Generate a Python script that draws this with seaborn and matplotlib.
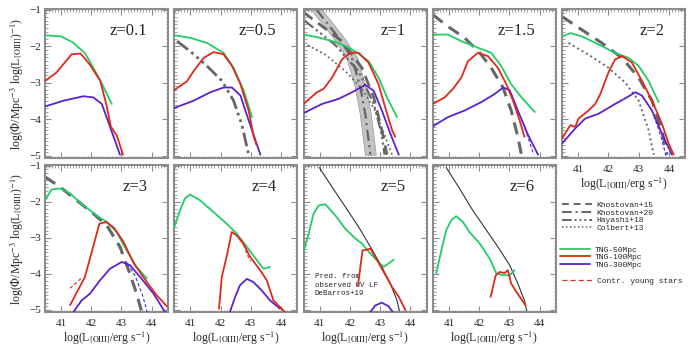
import numpy as np
import pandas as pd
import seaborn as sns
import matplotlib.pyplot as plt
from matplotlib.lines import Line2D
from matplotlib.ticker import MultipleLocator

# values: (log L[OIII], log Phi)
tng50_z01 = [(40.47, -1.70), (41.0, -1.73), (41.4, -1.90), (41.8, -2.2), (42.07, -2.59), (42.35, -3.02), (42.68, -3.58)]
tng50_z05 = [(40.47, -1.70), (41.0, -1.77), (41.55, -1.91), (42.1, -2.18), (42.43, -2.59), (42.77, -3.22), (43.04, -3.94)]
tng50_z1 = [(40.47, -1.68), (40.97, -1.76), (41.63, -1.91), (42.18, -2.14), (42.62, -2.41), (42.95, -2.86), (43.23, -3.4), (43.56, -3.94)]
tng50_z15 = [(40.47, -1.68), (40.97, -1.68), (41.41, -1.86), (41.96, -2.04), (42.4, -2.18), (42.73, -2.54), (43.06, -3.04), (43.4, -3.4), (43.84, -3.8)]
tng50_z2 = [(40.47, -1.73), (40.74, -1.64), (41.12, -1.73), (41.67, -1.95), (42.22, -2.18), (42.67, -2.32), (43.0, -2.54), (43.33, -2.95), (43.66, -3.53)]
tng50_z3 = [(40.47, -1.96), (40.69, -1.66), (40.97, -1.63), (41.3, -1.77), (41.74, -2.1), (42.18, -2.38), (42.51, -2.56), (42.84, -2.84), (43.17, -3.35), (43.5, -3.81), (43.84, -4.13)]
tng50_z4 = [(40.47, -2.7), (40.66, -2.24), (40.82, -1.91), (40.99, -1.8), (41.32, -1.96), (41.76, -2.28), (42.2, -2.61), (42.53, -2.88), (42.87, -3.25), (43.2, -3.62), (43.42, -3.86), (43.64, -3.81)]
tng50_z5 = [(40.47, -3.39), (40.64, -2.88), (40.8, -2.33), (40.97, -2.1), (41.19, -2.07), (41.52, -2.38), (41.85, -2.75), (42.18, -3.02), (42.4, -3.16), (42.68, -3.44), (42.95, -3.67), (43.12, -3.81), (43.45, -3.61)]
tng50_z6 = [(40.58, -3.99), (40.75, -3.35), (40.91, -2.79), (41.08, -2.51), (41.24, -2.4), (41.46, -2.56), (41.68, -2.84), (42.02, -3.16), (42.35, -3.58), (42.57, -3.99), (42.79, -4.04), (43.01, -4.04), (43.17, -3.9)]

tng100_z01 = [(40.47, -2.95), (40.85, -2.72), (41.35, -2.22), (41.65, -2.2), (41.95, -2.5), (42.3, -2.95), (42.5, -3.6), (42.65, -4.2), (42.85, -4.45), (43.05, -4.97)]
tng100_z05 = [(40.47, -3.2), (40.89, -2.96), (41.11, -2.68), (41.44, -2.32), (41.77, -2.16), (42.1, -2.22), (42.38, -2.54), (42.66, -3.04), (42.93, -3.76), (43.1, -4.48), (43.19, -4.7)]
tng100_z1 = [(40.47, -3.58), (40.91, -3.26), (41.13, -3.17), (41.41, -2.86), (41.74, -2.36), (42.02, -2.18), (42.29, -2.18), (42.62, -2.45), (42.95, -3.04), (43.2, -3.76), (43.4, -4.3), (43.5, -4.48)]
tng100_z15 = [(40.47, -3.58), (40.86, -3.4), (41.13, -3.17), (41.41, -2.86), (41.63, -2.41), (41.96, -2.18), (42.29, -2.27), (42.62, -2.59), (42.9, -3.04), (43.12, -3.49), (43.34, -4.03), (43.5, -4.48)]
tng100_z2 = [(40.47, -4.52), (40.74, -4.16), (40.9, -4.21), (41.01, -3.98), (41.34, -3.76), (41.56, -3.58), (41.73, -3.31), (42.0, -2.72), (42.22, -2.36), (42.45, -2.27), (42.78, -2.45), (43.11, -2.95), (43.44, -3.49), (43.77, -4.12), (43.99, -4.66), (44.16, -4.97)]
tng100_z3 = [(41.3, -4.87), (41.79, -4.09), (42.27, -2.61), (42.5, -2.56), (42.75, -2.72), (43.06, -3.1), (43.4, -3.7), (43.84, -4.23), (44.17, -4.6), (44.5, -4.9)]
tng100_z4 = [(41.95, -4.97), (42.04, -4.09), (42.2, -3.53), (42.37, -2.84), (42.53, -2.93), (42.75, -3.16), (42.98, -3.53), (43.31, -3.9), (43.53, -4.18), (43.75, -4.74), (44.13, -5.06)]
tng100_z5 = [(42.27, -4.32), (42.42, -3.35), (42.57, -3.33), (42.68, -3.3), (42.9, -3.62), (43.12, -3.95), (43.4, -4.37), (43.62, -4.64), (43.84, -5.01)]
tng100_z6 = [(42.38, -4.64), (42.55, -4.04), (42.68, -3.95), (42.84, -3.98), (42.95, -3.9), (43.06, -4.27), (43.23, -4.5), (43.54, -4.88)]

tng300_z01 = [(40.47, -3.65), (41.08, -3.49), (41.74, -3.37), (42.07, -3.40), (42.35, -3.58), (42.62, -4.2), (42.95, -4.97)]
tng300_z05 = [(40.47, -3.69), (41.11, -3.49), (41.66, -3.26), (42.1, -3.13), (42.38, -3.13), (42.66, -3.35), (42.93, -4.03), (43.32, -4.97)]
tng300_z1 = [(40.47, -3.83), (41.08, -3.58), (41.63, -3.44), (42.07, -3.26), (42.51, -3.06), (42.79, -3.22), (43.06, -3.76), (43.34, -4.39), (43.62, -4.97)]
tng300_z15 = [(40.47, -4.19), (40.97, -3.94), (41.52, -3.76), (42.07, -3.53), (42.51, -3.31), (42.79, -3.13), (43.01, -3.2), (43.28, -3.76), (43.62, -4.43), (43.95, -4.97)]
tng300_z2 = [(40.47, -4.66), (40.9, -4.25), (41.23, -3.98), (41.67, -3.85), (42.22, -3.58), (42.61, -3.4), (42.89, -3.26), (43.11, -3.35), (43.44, -3.76), (43.77, -4.39), (44.1, -4.97)]
tng300_z3 = [(41.41, -5.06), (41.68, -4.74), (41.96, -4.55), (42.29, -4.18), (42.62, -3.86), (43.01, -3.67), (43.28, -3.76), (43.62, -4.09), (44.06, -4.55), (44.44, -5.06)]
tng300_z4 = [(42.31, -5.06), (42.48, -4.65), (42.64, -4.32), (42.87, -4.14), (43.09, -4.23), (43.36, -4.46), (43.64, -4.74), (43.97, -4.97)]
tng300_z5 = [(42.68, -5.06), (42.84, -4.88), (43.06, -4.8), (43.28, -4.9), (43.42, -5.06)]

# young-star contributions, only where they split from the total
young_red_z3 = [(41.3, -4.4), (41.7, -4.1)]
young_blue_z3 = [(43.2, -3.72), (43.45, -4.05), (43.7, -4.6), (43.85, -5.06)]
young_blue_z2 = [(43.5, -3.9), (43.75, -4.5), (43.9, -5.0)]
young_blue_z15 = [(43.45, -4.1), (43.7, -4.7), (43.8, -4.97)]
young_red_z4 = [(42.7, -3.05), (42.9, -3.5), (43.0, -3.65)]

# observed LFs
hayashi_z05 = [(40.56, -1.86), (41.0, -2.14), (41.55, -2.54), (42.05, -2.95), (42.43, -3.49), (42.71, -4.16), (42.93, -4.97)]
khostovan15_z1 = [(40.47, -1.07), (40.58, -1.14), (41.74, -1.86), (42.4, -2.59), (42.79, -3.4), (43.06, -4.3), (43.23, -4.97)]
khostovan20_z1 = [(40.9, -1.0), (41.63, -1.77), (42.07, -2.32), (42.35, -3.13), (42.51, -3.85), (42.68, -4.97)]
hayashi_z1 = [(40.5, -1.3), (41.5, -1.95), (42.3, -2.7), (42.8, -3.6), (43.05, -4.4), (43.15, -4.97)]
colbert_z1 = [(40.47, -1.91), (41.19, -2.23), (41.85, -2.68), (42.4, -3.17), (42.84, -3.76), (43.17, -4.48), (43.4, -4.97)]
khostovan15_z15 = [(40.47, -1.14), (40.97, -1.46), (41.52, -1.77), (42.02, -2.18), (42.4, -2.59), (42.79, -3.13), (43.06, -3.76), (43.28, -4.48), (43.4, -4.97)]
khostovan15_z2 = [(40.47, -1.19), (41.12, -1.55), (41.78, -1.91), (42.45, -2.32), (43.0, -2.86), (43.44, -3.49), (43.77, -4.3), (43.94, -4.97)]
colbert_z2 = [(40.68, -1.91), (41.34, -2.23), (42.0, -2.59), (42.56, -3.0), (43.0, -3.49), (43.33, -4.3), (43.5, -4.97)]
khostovan15_z3 = [(40.47, -1.31), (40.97, -1.59), (41.52, -1.96), (42.07, -2.33), (42.51, -2.65), (42.95, -3.25), (43.28, -4.0), (43.5, -4.55), (43.67, -5.06)]
debarros_z5 = [(40.99, -1.05), (41.41, -1.59), (41.85, -2.14), (42.29, -2.7), (42.68, -3.25), (43.06, -3.81), (43.34, -4.27), (43.56, -4.74), (43.65, -5.06)]
debarros_z6 = [(40.91, -1.05), (41.35, -1.63), (41.79, -2.24), (42.24, -2.79), (42.62, -3.25), (43.01, -3.76), (43.28, -4.27), (43.5, -4.74), (43.58, -5.06)]
khostovan20_band = 0.18   # half width of the grey band in log L

z_labels = ['z=0.1', 'z=0.5', 'z=1', 'z=1.5', 'z=2', 'z=3', 'z=4', 'z=5', 'z=6']
xticks = [41, 42, 43, 44]
yticks = [-1, -2, -3, -4, -5]

GREEN, RED, BLUE = '#22cc66', '#dd2a1b', '#5a22d0'
GREY = '#666666'
FRAME = '#8c8c8c'
DASH = (0, (4, 2.5))
DASHDOT = (0, (5, 2, 1, 2))
DASH3DOT = (0, (5, 1.5, 1, 1.5, 1, 1.5, 1, 1.5))
DOT = (0, (1, 1.6))

sns.set_theme(style='ticks')
plt.rcParams['font.family'] = ['Liberation Serif', 'DejaVu Serif']
plt.rcParams['mathtext.fontset'] = 'stix'

panels = [
    dict(g=tng50_z01, r=tng100_z01, b=tng300_z01, obs=[]),
    dict(g=tng50_z05, r=tng100_z05, b=tng300_z05, obs=[(hayashi_z05, DASH3DOT, 2.0)]),
    dict(g=tng50_z1, r=tng100_z1, b=tng300_z1,
         obs=[(khostovan15_z1, DASH, 2.0), (khostovan20_z1, DASHDOT, 1.6),
              (hayashi_z1, DASH3DOT, 1.6), (colbert_z1, DOT, 1.3)], band=khostovan20_z1),
    dict(g=tng50_z15, r=tng100_z15, b=tng300_z15, obs=[(khostovan15_z15, DASH, 2.2)],
         young=[(young_blue_z15, BLUE)]),
    dict(g=tng50_z2, r=tng100_z2, b=tng300_z2, obs=[(khostovan15_z2, DASH, 2.2), (colbert_z2, DOT, 1.4)],
         young=[(young_blue_z2, BLUE)]),
    dict(g=tng50_z3, r=tng100_z3, b=tng300_z3, obs=[(khostovan15_z3, DASH, 2.2)],
         young=[(young_red_z3, RED), (young_blue_z3, BLUE)]),
    dict(g=tng50_z4, r=tng100_z4, b=tng300_z4, obs=[], young=[(young_red_z4, RED)]),
    dict(g=tng50_z5, r=tng100_z5, b=tng300_z5, obs=[], debarros=debarros_z5),
    dict(g=tng50_z6, r=tng100_z6, b=[], obs=[], debarros=debarros_z6),
]


def draw(ax, points, **kw):
    if len(points) == 0:
        return
    df = pd.DataFrame(points, columns=['logL', 'logphi'])
    sns.lineplot(data=df, x='logL', y='logphi', ax=ax, sort=False, estimator=None, legend=False, **kw)


W, H = 698, 349
fig = plt.figure(figsize=(W / 100, H / 100), dpi=100)
col_left = [45, 174.3, 303.6, 432.9, 562.2]
row_top = [9, 165]
row_h = [149, 147]
axw = 123

ylab = r'log($\Phi$/Mpc$^{-3}$ log(L$_{\rm [OIII]}$)$^{-1}$)'
xlab = r'log(L$_{\rm [OIII]}$/erg s$^{-1}$)'

for i, p in enumerate(panels):
    row, col = (0, i) if i < 5 else (1, i - 5)
    ax = fig.add_axes([col_left[col] / W, 1 - (row_top[row] + row_h[row]) / H, axw / W, row_h[row] / H])

    if 'band' in p:
        bd = pd.DataFrame(p['band'], columns=['logL', 'logphi'])
        ax.fill_betweenx(bd['logphi'], bd['logL'] - khostovan20_band, bd['logL'] + khostovan20_band,
                         color='#c4c4c4', edgecolor='#a0a0a0', lw=0.6, zorder=1)
    for pts, ls, lw in p['obs']:
        draw(ax, pts, color=GREY, linestyle=ls, lw=lw, zorder=2)
    if 'debarros' in p:
        draw(ax, p['debarros'], color='#333333', lw=0.8, zorder=2)

    draw(ax, p['g'], color=GREEN, lw=1.3, zorder=3)
    draw(ax, p['r'], color=RED, lw=1.3, zorder=4)
    draw(ax, p['b'], color=BLUE, lw=1.3, zorder=3)
    for pts, c in p.get('young', []):
        draw(ax, pts, color=c, lw=0.8, linestyle=(0, (3, 2)), zorder=3)

    ax.set_xlim(40.47, 44.54)
    ax.set_ylim(-5.06, -0.98)
    ax.set_xticks(xticks)
    ax.set_yticks(yticks)
    ax.xaxis.set_minor_locator(MultipleLocator(0.1))
    ax.yaxis.set_minor_locator(MultipleLocator(0.1))
    ax.tick_params(which='both', direction='in', top=True, right=True, color=FRAME, labelsize=8)
    ax.tick_params(which='major', length=4, width=0.8)
    ax.tick_params(which='minor', length=1.8, width=0.6)
    ax.tick_params(axis='x', pad=5)
    ax.tick_params(axis='y', pad=3)
    for s in ax.spines.values():
        s.set_color(FRAME)
        s.set_linewidth(1.5)
    ax.set_xlabel('')
    ax.set_ylabel('')

    if col == 0:
        ax.set_yticklabels([str(v).replace('-', '\u2212') for v in yticks])
        ax.set_ylabel(ylab, fontsize=8.5, labelpad=2)
    else:
        ax.set_yticklabels([])
    if row == 1 or i == 4:
        ax.set_xticklabels([str(v) for v in xticks])
        ax.set_xlabel(xlab, fontsize=8.5, labelpad=1)
    else:
        ax.set_xticklabels([])

    ax.text(0.83, 0.85, z_labels[i], transform=ax.transAxes, ha='right', va='center', fontsize=12)
    if 'debarros' in p and i == 7:
        ax.text(0.09, 0.265, 'Pred. from\nobserved UV LF\nDeBarros+19', transform=ax.transAxes,
                ha='left', va='top', fontsize=5.4, family='Liberation Mono', linespacing=1.3)

leg_font = dict(family='Liberation Mono', size=5.8)
obs_handles = [Line2D([], [], color=GREY, lw=1.4, linestyle=(0, (3.5, 2.5))),
               Line2D([], [], color=GREY, lw=1.4, linestyle=DASHDOT),
               Line2D([], [], color=GREY, lw=1.4, linestyle=DASH3DOT),
               Line2D([], [], color=GREY, lw=1.1, linestyle=DOT)]
obs_labels = ['Khostovan+15', 'Khostovan+20', 'Hayashi+18', 'Colbert+13']
sim_handles = [Line2D([], [], color=c, lw=1.3) for c in (GREEN, RED, BLUE)]
sim_labels = ['TNG-50Mpc', 'TNG-100Mpc', 'TNG-300Mpc']
young_handles = [Line2D([], [], color=RED, lw=0.9, linestyle=(0, (4, 2.5)))]

common = dict(loc='upper left', frameon=False, prop=leg_font, borderpad=0, borderaxespad=0,
              labelspacing=0.0, handletextpad=0.6, handlelength=3.7)
fig.legend(obs_handles, obs_labels, bbox_to_anchor=(562 / W, 1 - 201.5 / H), **common)
fig.legend(sim_handles, sim_labels, bbox_to_anchor=(560 / W, 1 - 246 / H), **common)
fig.legend(young_handles, ['Contr. young stars'], bbox_to_anchor=(562 / W, 1 - 277.5 / H), **common)

fig.savefig('out.png', dpi=100)
